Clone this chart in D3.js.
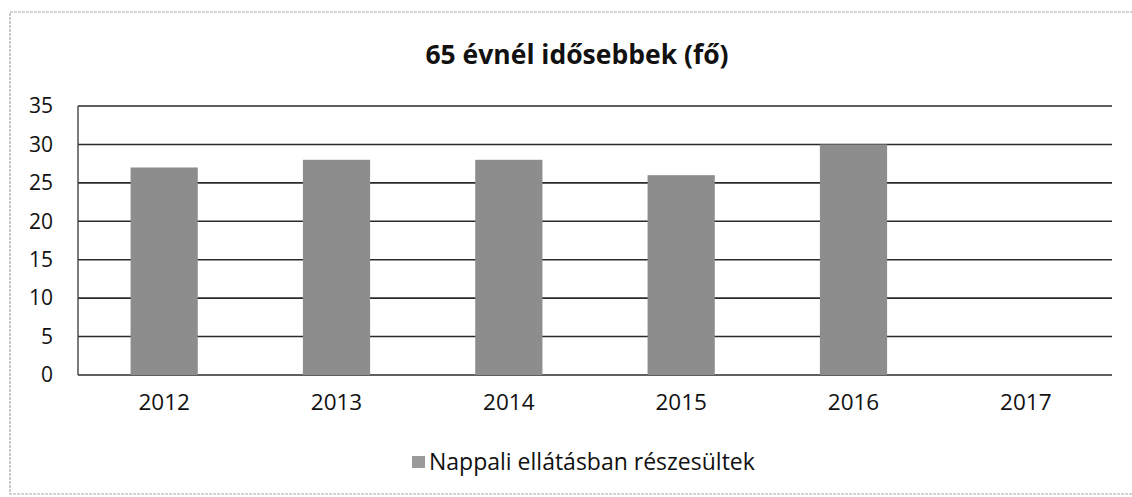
<!DOCTYPE html>
<html>
<head>
<meta charset="utf-8">
<script src="https://cdn.jsdelivr.net/npm/d3@7"></script>
<style>
  body { margin: 0; background: #fff; }
  text { font-family: "Open Sans", sans-serif; fill: #111; }
</style>
</head>
<body>
<svg id="chart"></svg>
<script>
// chart data
var years = ["2012", "2013", "2014", "2015", "2016", "2017"];
var values = [27, 28, 28, 26, 30, null];
var yTicks = [0, 5, 10, 15, 20, 25, 30, 35];
var title = "65 évnél idősebbek (fő)";
var seriesName = "Nappali ellátásban részesültek";

var width = 1132, height = 497;
var margin = {top: 106, right: 20, bottom: 122, left: 78};

var svg = d3.select("#chart")
            .attr("width", width)
            .attr("height", height);

// outer frame of the scanned chart
svg.append("rect")
   .attr("x", 10).attr("y", 12)
   .attr("width", 1140).attr("height", 482)
   .attr("fill", "none")
   .attr("stroke", "#aaa")
   .attr("stroke-width", 1.2)
   .attr("stroke-dasharray", "3,1");

var x = d3.scaleBand()
          .domain(years)
          .range([margin.left, width - margin.right])
          .paddingInner(0.61)
          .paddingOuter(0.305);

var y = d3.scaleLinear()
          .domain([0, 35])
          .range([height - margin.bottom, margin.top]);

// gridlines
svg.append("g")
   .selectAll("line")
   .data(yTicks)
   .enter().append("line")
   .attr("x1", margin.left)
   .attr("x2", width - margin.right)
   .attr("y1", d => y(d))
   .attr("y2", d => y(d))
   .attr("stroke", "#2a2a2a")
   .attr("stroke-width", 1.6);

// left axis line
svg.append("line")
   .attr("x1", margin.left).attr("x2", margin.left)
   .attr("y1", y(35)).attr("y2", y(0))
   .attr("stroke", "#444")
   .attr("stroke-width", 1.4);

// bars
svg.append("g")
   .selectAll("rect")
   .data(years.map((yr, i) => ({year: yr, value: values[i]})).filter(d => d.value != null))
   .enter().append("rect")
   .attr("x", d => x(d.year))
   .attr("y", d => y(d.value))
   .attr("width", x.bandwidth())
   .attr("height", d => y(0) - y(d.value))
   .attr("fill", "#8d8d8d");

// y tick labels
var yAxis = svg.append("g")
   .attr("transform", `translate(${margin.left},0)`)
   .call(d3.axisLeft(y).tickValues(yTicks).tickSize(0).tickPadding(25));
yAxis.select(".domain").remove();
yAxis.selectAll("text")
     .style("font-size", "21px")
     .style("font-family", "'Open Sans', sans-serif")
     .attr("fill", "#111");

// x tick labels
var xAxis = svg.append("g")
   .attr("transform", `translate(0,${y(0)})`)
   .call(d3.axisBottom(x).tickSize(0).tickPadding(19));
xAxis.select(".domain").remove();
xAxis.selectAll("text")
     .style("font-size", "22.5px")
     .style("font-family", "'Open Sans', sans-serif")
     .attr("fill", "#111");

// title
svg.append("text")
   .attr("x", 577)
   .attr("y", 64)
   .attr("text-anchor", "middle")
   .style("font-size", "26.5px")
   .style("font-weight", "bold")
   .text(title);

// legend
var legend = svg.append("g").attr("transform", "translate(412,456)");
legend.append("rect")
      .attr("x", 0).attr("y", 0)
      .attr("width", 13).attr("height", 12)
      .attr("fill", "#9a9a9a");
legend.append("text")
      .attr("x", 17)
      .attr("y", 14)
      .style("font-size", "23px")
      .text(seriesName);
</script>
</body>
</html>
